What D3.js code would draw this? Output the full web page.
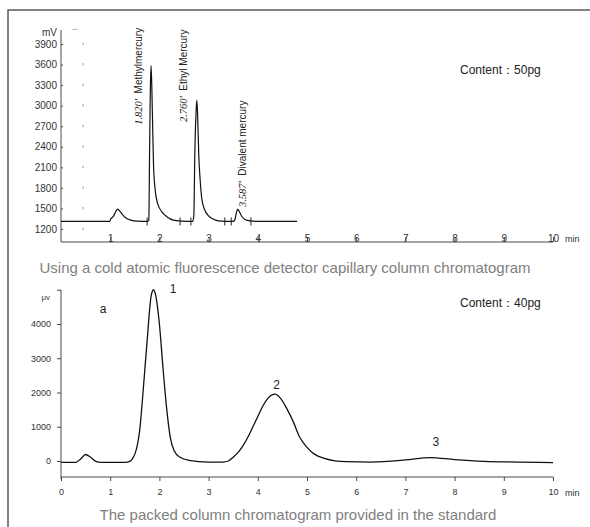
<!DOCTYPE html>
<html><head><meta charset="utf-8">
<script src="https://cdn.jsdelivr.net/npm/d3@7/dist/d3.min.js"></script>
<style>body{margin:0;background:#fff}svg{display:block;font-family:"Liberation Sans",Arial,sans-serif}</style>
</head><body><svg id="c" width="590" height="527"></svg>
<script>
// ---------- data ----------
const capTime   = [0,0.99,1.01,1.06,1.11,1.15,1.19,1.25,1.32,1.42,1.55,1.76,1.785,1.80,1.815,1.83,1.845,1.86,1.88,1.91,1.96,2.05,2.15,2.28,2.45,2.68,2.70,2.72,2.745,2.76,2.775,2.80,2.83,2.86,2.92,2.99,3.08,3.2,3.5,3.53,3.56,3.59,3.62,3.67,3.74,3.85,4.0,4.8];
const capSignal = [1310,1310,1345,1380,1450,1490,1465,1410,1360,1330,1315,1310,1330,2300,3200,3585,3300,2800,2150,1800,1580,1450,1380,1330,1315,1310,1400,2300,2900,3080,2900,2280,1900,1650,1480,1400,1350,1320,1310,1330,1420,1490,1460,1390,1340,1318,1310,1310];
const capMarkers = [1.75,2.42,2.64,3.33,3.46,3.86];
const capYTicks = [1200,1500,1800,2100,2400,2700,3000,3300,3600,3900];
const capXTicks = [1,2,3,4,5,6,7,8,9,10];
const capPeakTime  = ["1.820'","2.760'","3.587'"];
const capPeakName  = ["Methylmercury","Ethyl Mercury","Divalent mercury"];
const capPeakX     = [1.65,2.57,3.77];
const capPeakBase  = [2720,2760,1520];

const pkTime   = [0,0.3,0.4,0.5,0.6,0.72,0.8,1.3,1.4,1.45,1.5,1.55,1.6,1.65,1.75,1.83,1.88,1.93,2.0,2.08,2.15,2.22,2.3,2.42,2.6,3.0,3.3,3.4,3.5,3.6,3.7,3.8,3.9,4.0,4.1,4.2,4.3,4.35,4.45,4.6,4.72,4.85,5.0,5.15,5.35,5.8,6.3,7.0,7.5,8.0,8.6,9.3,10];
const pkSignal = [-40,-40,60,190,110,-20,-40,-40,-10,60,200,450,900,1700,3500,4800,5000,4800,4000,2600,1500,700,300,110,20,-30,-30,0,110,250,450,700,1000,1300,1600,1820,1940,1950,1850,1500,1150,700,400,200,80,-20,-30,30,100,40,-10,-30,-50];
const pkYTicks = [0,1000,2000,3000,4000];
const pkXTicks = [0,1,2,3,4,5,6,7,8,9,10];
const pkLabels = ["1","2","3"];
const pkLabelT = [2.28,4.38,7.62];
const pkLabelV = [4900,2100,450];

const captions = ["Using a cold atomic fluorescence detector capillary column chromatogram","The packed column chromatogram provided in the standard"];
const contents = ["Content：50pg","Content：40pg"];

// ---------- drawing ----------
const svg = d3.select("#c");
const axisCol = "#4a4a4a", txtCol = "#333";

// outer frame
svg.append("path").attr("d","M8,527 V10 H590").attr("fill","none").attr("stroke","#5a5a5a").attr("stroke-width",1.5);

// ===== top chart =====
const x1 = d3.scaleLinear().domain([0,10]).range([61,553]);
const y1 = d3.scaleLinear().domain([1200,3900]).range([229,44]);

const g1 = svg.append("g");
g1.append("line").attr("x1",61).attr("x2",61).attr("y1",30).attr("y2",242).attr("stroke",axisCol);
const ya1 = g1.append("g").attr("transform","translate(61,0)")
  .call(d3.axisLeft(y1).tickValues(capYTicks).tickSize(-2).tickPadding(4).tickFormat(d3.format("d")));
ya1.select(".domain").remove();
ya1.selectAll("line").attr("stroke",axisCol);
ya1.selectAll("text").attr("font-size",10).attr("fill",txtCol);
g1.append("text").attr("x",57).attr("y",36).attr("text-anchor","end").attr("font-size",10).attr("fill",txtCol).text("mV");
g1.append("text").attr("x",72).attr("y",31).attr("font-size",8).attr("fill","#666").text("--");
g1.selectAll(".dot").data(capYTicks).enter().append("rect")
  .attr("x",x1(0.45)-0.5).attr("y",d=>y1(d)-1.5).attr("width",1).attr("height",2.5).attr("fill","#999");

g1.append("line").attr("x1",61).attr("x2",553).attr("y1",242).attr("y2",242).attr("stroke",axisCol);
const xa1 = g1.append("g").attr("transform","translate(0,242)")
  .call(d3.axisTop(x1).tickValues(capXTicks).tickSize(5).tickPadding(-5).tickFormat(d3.format("d")));
xa1.select(".domain").remove();
xa1.selectAll("line").attr("stroke",axisCol);
xa1.selectAll("text").attr("font-size",10).attr("fill",txtCol).attr("dy","0").attr("y",0);
g1.append("text").attr("x",565).attr("y",242).attr("font-size",9).attr("fill",txtCol).text("min");

const line1 = d3.line().x((d,i)=>x1(capTime[i])).y((d,i)=>y1(capSignal[i])).curve(d3.curveMonotoneX);
g1.append("path").attr("d",line1(capTime)).attr("fill","none").attr("stroke","#111").attr("stroke-width",1.2);
g1.selectAll(".mk").data(capMarkers).enter().append("line")
  .attr("x1",d=>x1(d)).attr("x2",d=>x1(d)).attr("y1",y1(1310)-4).attr("y2",y1(1310)+4)
  .attr("stroke","#222").attr("stroke-width",1);
capPeakName.forEach((n,i)=>{
  const t = g1.append("text").attr("transform",`translate(${x1(capPeakX[i])},${y1(capPeakBase[i])}) rotate(-90)`)
    .attr("font-size",10).attr("fill","#222");
  t.append("tspan").attr("font-family","Liberation Serif, Times New Roman, serif").attr("font-style","italic").attr("font-size",10.5).text(capPeakTime[i]);
  t.append("tspan").text("\u00a0\u00a0"+n);
});
g1.append("text").attr("x",460).attr("y",74).attr("font-size",12).attr("fill","#222").text(contents[0]);

svg.append("text").attr("x",285).attr("y",273).attr("text-anchor","middle").attr("font-size",15).attr("fill","#808080").text(captions[0]);

// ===== bottom chart =====
const x2 = d3.scaleLinear().domain([0,10]).range([61,553]);
const y2 = d3.scaleLinear().domain([0,4000]).range([461,324]);
const g2 = svg.append("g");
g2.append("line").attr("x1",61).attr("x2",61).attr("y1",y2(5000)).attr("y2",479).attr("stroke",axisCol);
const ya2 = g2.append("g").attr("transform","translate(61,0)")
  .call(d3.axisLeft(y2).tickValues(pkYTicks.concat([5000])).tickSize(4).tickPadding(6).tickFormat(d=>d===5000?"":d3.format("d")(d)));
ya2.select(".domain").remove();
ya2.selectAll("line").attr("stroke",axisCol);
ya2.selectAll("text").attr("font-size",9).attr("fill",txtCol);
g2.append("text").attr("x",50).attr("y",y2(5000)+10).attr("text-anchor","end").attr("font-size",8).attr("fill",txtCol).text("μv");

g2.append("line").attr("x1",61).attr("x2",553).attr("y1",477).attr("y2",477).attr("stroke",axisCol);
const xa2 = g2.append("g").attr("transform","translate(0,477)")
  .call(d3.axisBottom(x2).tickValues(pkXTicks).tickSize(4).tickPadding(8).tickFormat(d3.format("d")));
xa2.select(".domain").remove();
xa2.selectAll("line").attr("stroke",axisCol);
xa2.selectAll("text").attr("font-size",9).attr("fill",txtCol);
g2.append("text").attr("x",565).attr("y",496).attr("font-size",9).attr("fill",txtCol).text("min");

const line2 = d3.line().x((d,i)=>x2(pkTime[i])).y((d,i)=>y2(pkSignal[i])).curve(d3.curveMonotoneX);
g2.append("path").attr("d",line2(pkTime)).attr("fill","none").attr("stroke","#111").attr("stroke-width",1.3);

pkLabels.forEach((l,i)=>{
  g2.append("text").attr("x",x2(pkLabelT[i])).attr("y",y2(pkLabelV[i])).attr("text-anchor","middle")
    .attr("font-size",12).attr("fill","#222").text(l);
});
g2.append("text").attr("x",103).attr("y",313).attr("text-anchor","middle").attr("font-size",12).attr("fill","#222").text("a");
g2.append("text").attr("x",460).attr("y",307).attr("font-size",12).attr("fill","#222").text(contents[1]);

svg.append("text").attr("x",298).attr("y",520).attr("text-anchor","middle").attr("font-size",15).attr("fill","#808080").text(captions[1]);
</script></body></html>
